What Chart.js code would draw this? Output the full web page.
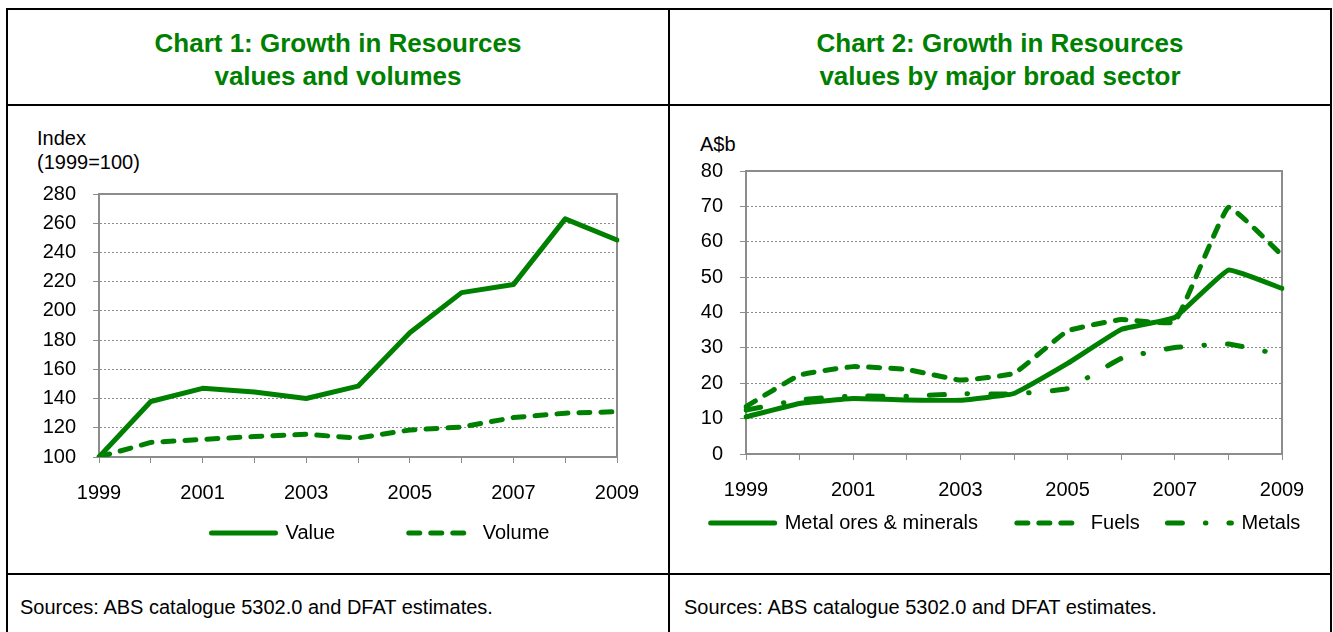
<!DOCTYPE html>
<html lang="en">
<head>
<meta charset="UTF-8" />
<title>Growth in Resources</title>
<script src="https://cdn.jsdelivr.net/npm/chart.js"></script>
<style>
  body { margin: 0; width: 1333px; height: 632px; background: #fff; position: relative; overflow: hidden;
         font-family: "Liberation Sans", Arial, sans-serif; color: #000; }
  .rule { position: absolute; background: #000; }
  .title { position: absolute; top: 27px; text-align: center; color: #008000; font-weight: bold;
           font-size: 26px; line-height: 33px; }
  .unit { position: absolute; font-size: 20px; line-height: 24px; }
  .source { position: absolute; top: 595px; font-size: 20px; line-height: 24px; }
  canvas { position: absolute; }
</style>
</head>
<body>
  <!-- table frame -->
  <div class="rule" style="left:6px;top:8px;width:1326px;height:2px"></div>
  <div class="rule" style="left:6px;top:8px;width:2px;height:640px"></div>
  <div class="rule" style="left:1330px;top:8px;width:2px;height:640px"></div>
  <div class="rule" style="left:668px;top:8px;width:2px;height:640px"></div>
  <div class="rule" style="left:6px;top:104px;width:1326px;height:2px"></div>
  <div class="rule" style="left:6px;top:573px;width:1326px;height:2px"></div>

  <div class="title" style="left:8px;width:660px">Chart 1: Growth in Resources<br>values and volumes</div>
  <div class="title" style="left:670px;width:660px">Chart 2: Growth in Resources<br>values by major broad sector</div>

  <div class="unit" style="left:37px;top:126px">Index<br>(1999=100)</div>
  <div class="unit" style="left:700px;top:132px">A$b</div>

  <canvas id="chart1" width="660" height="466" style="left:8px;top:106px"></canvas>
  <canvas id="chart2" width="659" height="466" style="left:670px;top:106px"></canvas>

  <div class="source" style="left:20px">Sources: ABS catalogue 5302.0 and DFAT estimates.</div>
  <div class="source" style="left:684px">Sources: ABS catalogue 5302.0 and DFAT estimates.</div>

<script>
  const years = ["1999", "2000", "2001", "2002", "2003", "2004", "2005", "2006", "2007", "2008", "2009"];

  // chart 1, index 1999=100
  const valueIndex = [100, 138, 147, 144.5, 140, 148.5, 185, 212.5, 218, 263, 248.5];
  const volumeIndex = [100, 110, 112, 114, 115.5, 113, 118.5, 120.5, 127, 130, 131];

  // chart 2, A$b
  const metalOres = [10.5, 14.3, 15.7, 15.3, 15.2, 17.1, 25.6, 35.2, 38.6, 52, 46.8];
  const fuels = [13.4, 22.3, 24.7, 23.9, 20.9, 22.8, 34.8, 38, 37.4, 69.7, 56.2];
  const metals = [12.4, 15.3, 16.4, 16.3, 17, 17, 18.5, 27, 30.1, 31.1, 28];

  const green = "#008000";
  const grey = "#8c8c8c";

  Chart.defaults.font.family = '"Liberation Sans", Arial, sans-serif';
  Chart.defaults.font.size = 20;
  Chart.defaults.color = "#000";

  const lineSet = (label, data, dash, tension) => ({
    label: label,
    data: data,
    borderColor: green,
    backgroundColor: green,
    borderWidth: 5,
    borderDash: dash,
    borderCapStyle: "round",
    borderJoinStyle: "round",
    tension: tension,
    pointRadius: 0,
    fill: false,
  });

  const makeOptions = (o) => ({
    responsive: false,
    animation: false,
    layout: { padding: o.padding },
    plugins: {
      tooltip: { enabled: false },
      legend: {
        position: "bottom",
        labels: {
          usePointStyle: true,
          pointStyleWidth: 64,
          padding: o.legendGap,
          color: "#000",
          // short line samples with each dataset's dash; trailing spaces widen the slot like Excel does
          generateLabels: (chart) =>
            chart.data.datasets.map((d, i) => ({
              text: d.label + " ".repeat(o.slotPad[i] || 0),
              strokeStyle: d.borderColor,
              fillStyle: d.borderColor,
              lineWidth: d.borderWidth,
              lineDash: d.borderDash,
              lineCap: "round",
              pointStyle: "line",
              datasetIndex: i,
              hidden: false,
            })),
        },
      },
    },
    scales: {
      x: {
        offset: false,
        grid: { display: true, drawOnChartArea: false, drawTicks: true, tickLength: 6, tickColor: grey, tickWidth: 1 },
        border: { color: grey, width: 2 },
        ticks: { autoSkip: false, maxRotation: 0, padding: 18, callback: (v, i) => (i % 2 ? "" : years[i]) },
        afterFit: (s) => { s.height = 48; },
      },
      x2: {
        position: "top",
        type: "linear",
        grid: { display: false, drawTicks: false },
        ticks: { display: false },
        border: { color: grey, width: 2 },
        afterFit: (s) => { s.height = 0; },
      },
      y: {
        min: o.min,
        max: o.max,
        grid: { color: grey, lineWidth: 1, tickLength: 6, tickColor: grey, tickBorderDash: [] },
        border: { color: grey, width: 2, dash: [2, 2] },
        ticks: { stepSize: o.step, padding: 17 },
        afterFit: (s) => { s.width = o.yWidth; },
      },
      y2: {
        position: "right",
        type: "linear",
        grid: { display: false, drawTicks: false },
        ticks: { display: false },
        border: { color: grey, width: 2 },
        afterFit: (s) => { s.width = o.y2Width; },
      },
    },
  });

  new Chart(document.getElementById("chart1"), {
    type: "line",
    data: {
      labels: years,
      datasets: [
        lineSet("Value", valueIndex, [], 0),
        lineSet("Volume", volumeIndex, [11, 11], 0),
      ],
    },
    options: makeOptions({
      padding: { top: 88, left: 33, right: -52, bottom: 19 },
      legendGap: 18, slotPad: [10, 0], yWidth: 58, y2Width: 103,
      min: 100, max: 280, step: 20,
    }),
  });

  new Chart(document.getElementById("chart2"), {
    type: "line",
    data: {
      labels: years,
      datasets: [
        lineSet("Metal ores & minerals", metalOres, [], 0.1),
        lineSet("Fuels", fuels, [11, 11], 0.1),
        lineSet("Metals", metals, [15, 23, 0.5, 23], 0.1),
      ],
    },
    options: makeOptions({
      padding: { top: 65, left: 21, right: 9, bottom: 29 },
      legendGap: 11, slotPad: [5, 3, 0], yWidth: 55, y2Width: 38,
      min: 0, max: 80, step: 10,
    }),
  });
</script>
</body>
</html>
